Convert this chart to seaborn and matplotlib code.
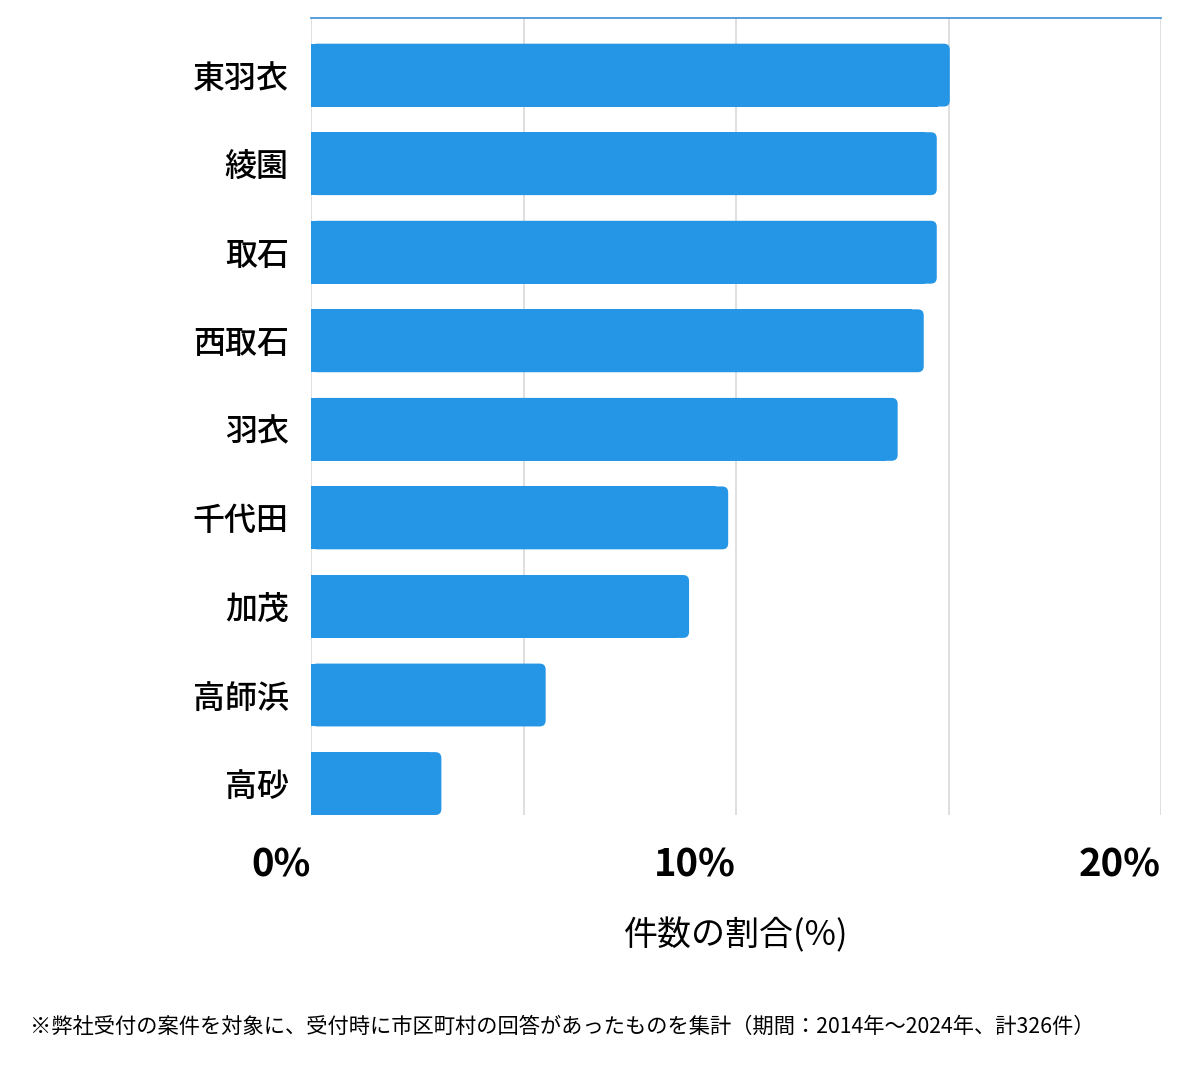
import matplotlib
matplotlib.use("Agg")
import matplotlib.pyplot as plt
from matplotlib.patches import FancyBboxPatch, Rectangle
import seaborn as sns
import pandas as pd

categories = ["東羽衣", "綾園", "取石", "西取石", "羽衣", "千代田", "加茂", "高師浜", "高砂"]
counts = [49, 48, 48, 47, 45, 32, 29, 18, 10]
total = 326
shares = [c / total * 100 for c in counts]
tick_values = [0, 10, 20]
tick_labels = ["0%", "10%", "20%"]

sns.set_theme(style="white")
plt.rcParams['font.family'] = ['Noto Sans CJK JP', 'DejaVu Sans']
plt.rcParams['text.color'] = 'black'
plt.rcParams['axes.labelcolor'] = 'black'
plt.rcParams['xtick.color'] = 'black'
plt.rcParams['ytick.color'] = 'black'

bar_color = "#2595E6"
df = pd.DataFrame({"area": categories, "share": shares})

fig = plt.figure(figsize=(12, 10.69), dpi=100)
ax = fig.add_axes([311/1200, 1-815/1069, (1161-311)/1200, (815-18)/1069])

sns.barplot(data=df, y="area", x="share", color=bar_color, saturation=1,
            width=0.71, ax=ax, zorder=3)

ax.set_xlim(0, 20)
ax.set_ylim(len(categories) - 1 + 0.355, -0.645)

# replace bars with right-rounded versions
px_x = 20 / 850.0
px_y = (len(categories)) / 797.0
r = 6 * px_x
aspect = px_y / px_x
for p in list(ax.patches):
    x0, y0 = p.get_x(), p.get_y()
    w, h = p.get_width(), p.get_height()
    p.remove()
    ax.add_patch(FancyBboxPatch((x0, y0), w, h,
                                boxstyle=f"round,pad=0,rounding_size={r}",
                                mutation_aspect=aspect,
                                fc=bar_color, ec="none", zorder=3))
    ax.add_patch(Rectangle((x0, y0), w - 2 * r, h, fc=bar_color, ec="none", zorder=3))

for v in [0, 5, 10, 15, 20]:
    ax.axvline(v, color="#d9d9d9", lw=1.2, zorder=1)

for s in ["left", "right", "bottom"]:
    ax.spines[s].set_visible(False)
ax.spines["top"].set_visible(True)
ax.spines["top"].set_color("#3a8fd6")
ax.spines["top"].set_linewidth(1.2)

ax.set_xticks(tick_values)
ax.set_xticklabels(tick_labels, fontsize=27.5, fontweight="bold", ha="right")
ax.tick_params(axis="x", length=0, pad=22)
ax.tick_params(axis="y", length=0, pad=16, labelsize=23)
for lbl in ax.get_yticklabels():
    lbl.set_fontweight("medium")
ax.set_ylabel("")
ax.set_xlabel("件数の割合(%)", fontsize=24.5, labelpad=24)

fig.text(30/1200, 1-1027/1069, "※弊社受付の案件を対象に、受付時に市区町村の回答があったものを集計（期間：2014年～2024年、計326件）",
         fontsize=15.3, va="center", ha="left")

fig.savefig("out.png", dpi=100)
